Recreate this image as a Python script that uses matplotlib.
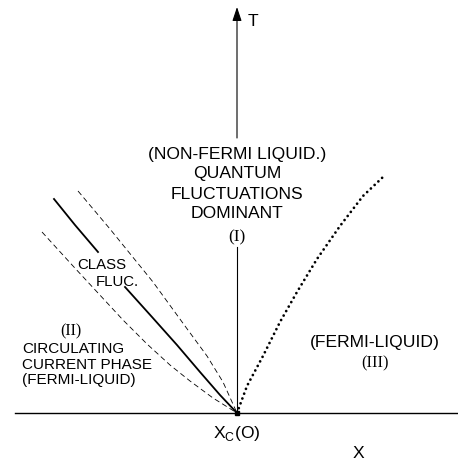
import matplotlib
matplotlib.use("Agg")
import matplotlib.pyplot as plt

plt.rcParams["mathtext.fontset"] = "custom"
plt.rcParams["mathtext.rm"] = "Liberation Sans"
plt.rcParams["lines.scale_dashes"] = False

SANS = "Liberation Sans"
SERIF = "Liberation Serif"

# Crossover line (solid), split where the label sits
solid_upper_x = [-1.83, -1.62, -1.39]
solid_upper_T = [2.14, 1.88, 1.61]
solid_lower_x = [-1.12, -0.85, -0.60, -0.37, -0.17, 0.0]
solid_lower_T = [1.26, 0.96, 0.68, 0.41, 0.18, 0.0]

# Boundaries of the classical-fluctuation region (dashed)
dash_outer_x = [-1.59, -1.27, -0.84, -0.52, -0.30, -0.14, 0.0]
dash_outer_T = [2.22, 1.84, 1.31, 0.87, 0.57, 0.31, 0.0]
dash_inner_x = [-1.95, -1.64, -1.14, -0.90, -0.67, -0.47, -0.24, 0.0]
dash_inner_T = [1.81, 1.47, 0.93, 0.69, 0.48, 0.32, 0.15, 0.0]

# Crossover to the Fermi liquid (dotted)
dotted_x = [0.0, 0.10, 0.26, 0.43, 0.60, 0.80, 1.03, 1.26, 1.46]
dotted_T = [0.0, 0.27, 0.57, 0.91, 1.21, 1.54, 1.87, 2.17, 2.36]

fig = plt.figure(figsize=(4.58, 4.64), dpi=100)
ax = fig.add_axes([0, 0, 1, 1])
ax.set_xlim(-2.37, 2.21)
ax.set_ylim(-0.50, 4.14)
ax.axis("off")

# Axes of the phase diagram
ax.plot([-2.22, 2.21], [0, 0], color="black", lw=1.0)
ax.plot([0, 0], [0, 1.66], color="black", lw=0.8)
ax.annotate("", xy=(0, 4.06), xytext=(0, 2.75),
            arrowprops=dict(arrowstyle="-|>,head_length=0.6,head_width=0.2",
                            mutation_scale=14, lw=0.8, color="black",
                            shrinkA=0, shrinkB=0))

ax.plot(solid_upper_x, solid_upper_T, color="black", lw=1.3)
ax.plot(solid_lower_x, solid_lower_T, color="black", lw=1.3)
ax.plot(dash_outer_x, dash_outer_T, color="black", lw=0.6, dashes=(3.8, 2.4))
ax.plot(dash_inner_x, dash_inner_T, color="black", lw=0.6, dashes=(3.8, 2.4))
ax.plot(dotted_x, dotted_T, color="black", lw=2.0, dashes=(0.01, 3.7),
        dash_capstyle="round")
ax.plot([0], [0], marker="s", ms=3, color="black")

# Region labels
def label(x, y, s, size, family=SANS, ha="center"):
    ax.text(x, y, s, fontsize=size, family=family, ha=ha, va="baseline",
            color="black")

label(0, 2.55, "(NON-FERMI LIQUID.)", 12.6)
label(0, 2.36, "QUANTUM", 12.6)
label(0, 2.15, "FLUCTUATIONS", 12.6)
label(0, 1.96, "DOMINANT", 12.6)
label(0, 1.73, "(I)", 12.4, SERIF)

label(-1.35, 1.45, "CLASS", 10.8)
label(-1.20, 1.28, "FLUC.", 10.8)

label(-1.66, 0.79, "(II)", 11.6, SERIF)
label(-2.15, 0.61, "CIRCULATING", 11.0, ha="left")
label(-2.15, 0.45, "CURRENT PHASE", 11.0, ha="left")
label(-2.15, 0.30, "(FERMI-LIQUID)", 11.0, ha="left")

label(1.38, 0.67, "(FERMI-LIQUID)", 12.6)
label(1.38, 0.47, "(III)", 11.8, SERIF)

label(0, -0.24, r"X$_{\mathrm{C}}$(O)", 12.6)
label(1.21, -0.44, "X", 12.6)
label(0.16, 3.88, "T", 12.6)

fig.savefig("out.png", dpi=100)
